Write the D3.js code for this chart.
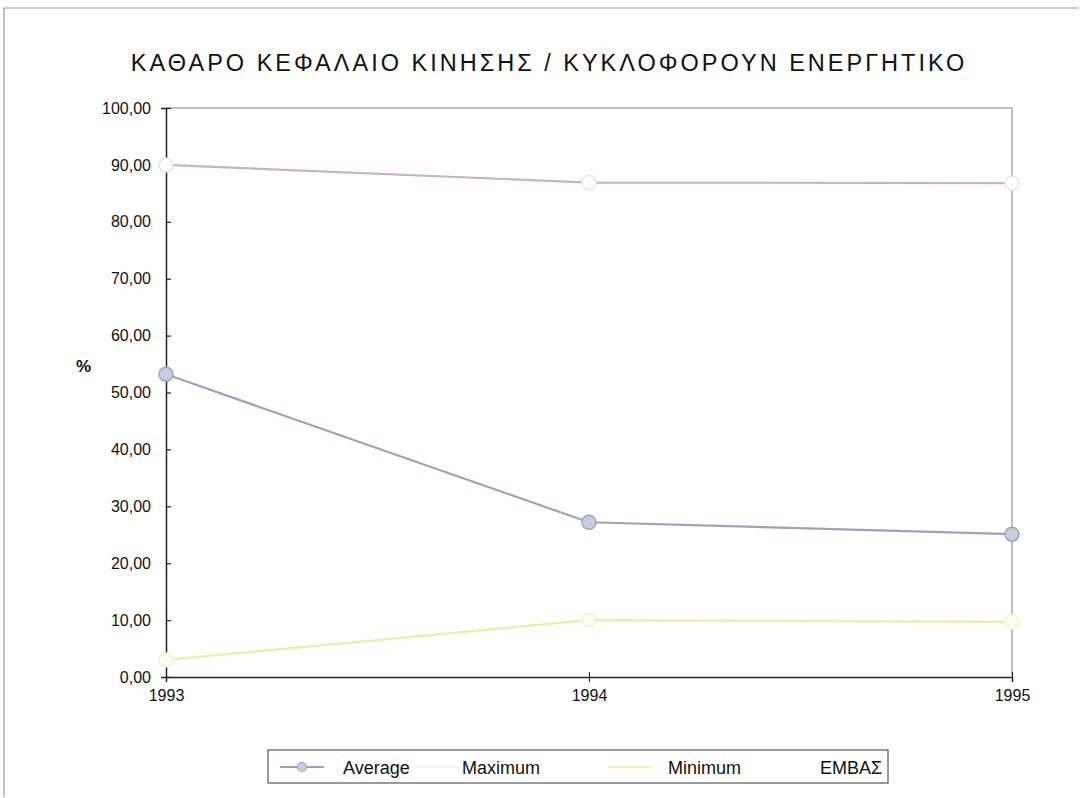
<!DOCTYPE html>
<html><head><meta charset="utf-8">
<script src="https://cdn.jsdelivr.net/npm/d3@7"></script>
<style>body{margin:0;background:#fff;}svg{display:block;font-family:"Liberation Sans",Arial,sans-serif;}</style>
</head><body>
<svg id="c" width="1080" height="798"></svg>
<script>
const years = [1993, 1994, 1995];
const average = [53.2, 27.2, 25.1];
const maximum = [90.0, 86.9, 86.8];
const minimum = [3.0, 10.0, 9.7];
const embas = [null, null, null];
const yTicks = [0,10,20,30,40,50,60,70,80,90,100];
const seriesNames = ["Average", "Maximum", "Minimum", "ΕΜΒΑΣ"];

const svg = d3.select("#c");
// outer frame (top and left edges visible)
svg.append("path").attr("d","M4,797V8H1079").attr("fill","none")
  .attr("stroke","#9a9a9a").attr("stroke-width",1.2);

svg.append("text").attr("x",549).attr("y",71).attr("text-anchor","middle")
  .attr("font-size",23.5).attr("fill","#111").attr("letter-spacing","3")
  .text("ΚΑΘΑΡΟ ΚΕΦΑΛΑΙΟ ΚΙΝΗΣΗΣ / ΚΥΚΛΟΦΟΡΟΥΝ ΕΝΕΡΓΗΤΙΚΟ");

const x = d3.scalePoint().domain(years).range([166, 1012]);
const y = d3.scaleLinear().domain([0,100]).range([677, 108]);

// plot border (top & right)
svg.append("path").attr("d", `M166,108H1012V677`).attr("fill","none")
  .attr("stroke","#aaaaaa").attr("stroke-width",1.5);

const yAxis = svg.append("g").attr("transform","translate(166,0)")
  .call(d3.axisLeft(y).tickValues(yTicks).tickSize(5).tickPadding(10)
    .tickFormat(d => d3.format(".2f")(d).replace(".",",")));
yAxis.selectAll("path").attr("stroke","#222").attr("stroke-width",1.5);
yAxis.selectAll("line").attr("stroke","#222").attr("x2",5).attr("stroke-width",1.2);
yAxis.selectAll("text").attr("font-size",16).attr("fill","#111").attr("font-family","Liberation Sans, Arial, sans-serif");

const xAxis = svg.append("g").attr("transform","translate(0,677)")
  .call(d3.axisBottom(x).tickSize(5).tickPadding(8).tickFormat(d3.format("d")));
xAxis.selectAll("path").attr("stroke","#222").attr("stroke-width",1.5);
xAxis.selectAll("line").attr("stroke","#222").attr("y1",-5).attr("y2",5);
xAxis.selectAll("text").attr("font-size",16).attr("fill","#111").attr("font-family","Liberation Sans, Arial, sans-serif");

svg.append("text").attr("x",76).attr("y",372).attr("font-size",17).attr("font-weight","bold")
  .attr("fill","#111").text("%");

const line = d3.line().defined(d => d.v != null).x(d => x(d.year)).y(d => y(d.v));
const series = [
  {name:"Average", values:average, color:"#9ea3bd", mfill:"#c8cde0", mstroke:"#9ea3bd"},
  {name:"Maximum", values:maximum, color:"#c9b2c9", mfill:"#ffffff", mstroke:"#e8e2ea"},
  {name:"Minimum", values:minimum, color:"#e9f0a8", mfill:"#fbfdf0", mstroke:"#f0f4d0"},
  {name:"ΕΜΒΑΣ", values:embas, color:"#ffffff", mfill:"#ffffff", mstroke:"#ffffff"}
];
series.forEach(s => {
  const pts = years.map((yr,i) => ({year:yr, v:s.values[i]}));
  svg.append("path").datum(pts).attr("d", line).attr("fill","none")
    .attr("stroke", s.color).attr("stroke-width", 2.2);
  svg.selectAll(null).data(pts.filter(p => p.v != null)).enter().append("circle")
    .attr("cx", d => x(d.year)).attr("cy", d => y(d.v)).attr("r", 7)
    .attr("fill", s.mfill).attr("stroke", s.mstroke).attr("stroke-width", 1.5);
});

// legend
const lg = svg.append("g");
lg.append("rect").attr("x",268).attr("y",750).attr("width",620).attr("height",33)
  .attr("fill","#fff").attr("stroke","#555").attr("stroke-width",1.2);
const legendPos = [
  {lx:280, tx:343, lc:"#9ea3bd"},
  {lx:415, tx:462, lc:"#f6f1f6"},
  {lx:608, tx:668, lc:"#eef3b8"},
  {lx:765, tx:820, lc:"#ffffff"}
];
series.forEach((s,i) => {
  const p = legendPos[i];
  lg.append("line").attr("x1",p.lx).attr("x2",p.lx+44).attr("y1",767).attr("y2",767)
    .attr("stroke", p.lc).attr("stroke-width",2);
  if (i === 0)
    lg.append("circle").attr("cx",p.lx+22).attr("cy",767).attr("r",4.5)
      .attr("fill", s.mfill).attr("stroke", s.mstroke).attr("stroke-width",1.2);
  lg.append("text").attr("x",p.tx).attr("y",774).attr("font-size",18).attr("fill","#111")
    .text(seriesNames[i]);
});
</script>
</body></html>
